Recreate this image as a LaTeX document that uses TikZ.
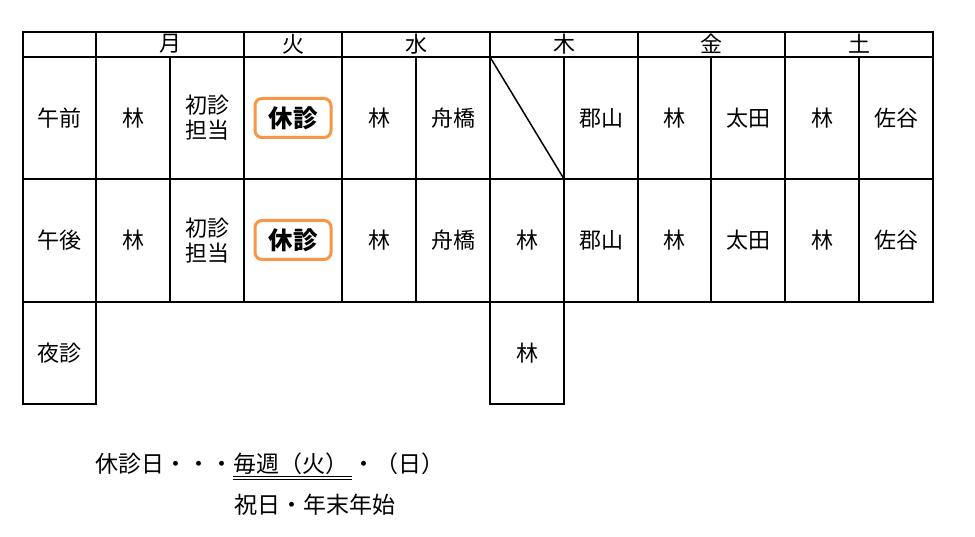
\documentclass[tikz,border=0pt]{standalone}
\usepackage{fontspec}
\setmainfont{Noto Sans CJK JP}
\newfontfamily\medfont{Noto Sans CJK JP Medium}
\begin{document}
\begin{tikzpicture}[x=1pt,y=-1pt,
  grid/.style={line width=2pt,line cap=rect},
  cell/.style={inner sep=0pt,font=\fontsize{22}{25}\selectfont},
  closed/.style={draw=closedorange,line width=3pt,rounded corners=7pt,minimum width=76pt,minimum height=39pt,inner sep=0pt,font=\fontsize{24.5}{26}\selectfont\bfseries},
  note/.style={inner sep=0pt,anchor=west,font=\fontsize{23}{25}\selectfont}]
\definecolor{closedorange}{HTML}{F79646}
\useasboundingbox (0,0) rectangle (975,537);
\fill[white] (0,0) rectangle (975,537);
% grid
\foreach \y in {32,57,179,302} \draw[grid] (23,\y) -- (933,\y);
\draw[grid] (23,404) -- (96,404);
\draw[grid] (490,404) -- (564,404);
\foreach \x in {23,96,490} \draw[grid] (\x,32) -- (\x,404);
\draw[grid] (564,57) -- (564,404);
\foreach \x in {244,342,638,785,933} \draw[grid] (\x,32) -- (\x,302);
\foreach \x in {170,416,711,859} \draw[grid] (\x,57) -- (\x,302);
\coordinate (diagA) at (490,57);
\coordinate (diagB) at (564,179);
\draw[line width=1.5pt] (diagA) -- (diagB);
% header
\node[cell] (hMon) at (170,44) {月};
\node[cell] (hTue) at (293,44) {火};
\node[cell] (hWed) at (416,44) {水};
\node[cell] (hThu) at (564,44) {木};
\node[cell] (hFri) at (711.5,44) {金};
\node[cell] (hSat) at (859,44) {土};
% row labels
\node[cell] (rAM) at (59.5,118) {午前};
\node[cell] (rPM) at (59.5,240.5) {午後};
\node[cell] (rNight) at (59.5,353) {夜診};
% morning
\node[cell] (am1) at (133,118) {林};
\node[cell,align=center] (am2) at (207,118) {初診\\担当};
\node[closed] (am3) at (293,118) {休診};
\node[cell] (am4) at (379,118) {林};
\node[cell] (am5) at (453,118) {舟橋};
\node[cell] (am7) at (601,118) {郡山};
\node[cell] (am8) at (674.5,118) {林};
\node[cell] (am9) at (748,118) {太田};
\node[cell] (am10) at (822,118) {林};
\node[cell] (am11) at (896,118) {佐谷};
% afternoon
\node[cell] (pm1) at (133,240.5) {林};
\node[cell,align=center] (pm2) at (207,240.5) {初診\\担当};
\node[closed] (pm3) at (293,240) {休診};
\node[cell] (pm4) at (379,240.5) {林};
\node[cell] (pm5) at (453,240.5) {舟橋};
\node[cell] (pm6) at (527,240.5) {林};
\node[cell] (pm7) at (601,240.5) {郡山};
\node[cell] (pm8) at (674.5,240.5) {林};
\node[cell] (pm9) at (748,240.5) {太田};
\node[cell] (pm10) at (822,240.5) {林};
\node[cell] (pm11) at (896,240.5) {佐谷};
% night
\node[cell] (nt6) at (527,353) {林};
% notes
\node[note] (t1) at (95,464) {休診日・・・};
\node[note,anchor=base west] (t2) at (t1.base east) {毎週（火）};
\node[note,anchor=base west] (t3) at ([xshift=3pt]t2.base east) {・（日）};
\coordinate (u1) at ([yshift=-6.5pt]t2.base west);
\coordinate (u2) at ([xshift=3pt,yshift=-6.5pt]t2.base east);
\draw[line width=0.9pt] (u1) -- (u2);
\draw[line width=0.9pt] ([yshift=2.4pt]u1) -- ([yshift=2.4pt]u2);
\node[note] (t4) at (234,505) {祝日・年末年始};
\end{tikzpicture}
\end{document}
